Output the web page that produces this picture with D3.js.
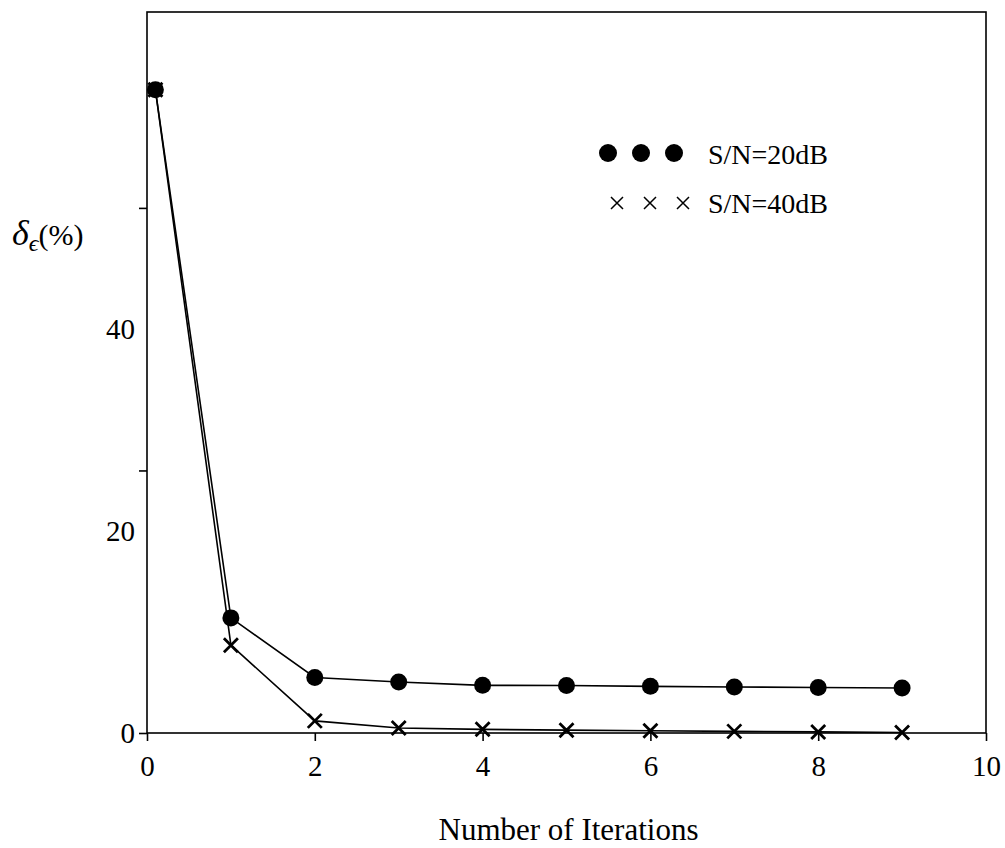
<!DOCTYPE html>
<html>
<head>
<meta charset="utf-8">
<script src="https://cdn.jsdelivr.net/npm/d3@7"></script>
<style>
  body { margin: 0; background: #fff; }
  svg { display: block; }
  text { font-family: "Liberation Serif", "DejaVu Serif", serif; fill: #000; }
</style>
</head>
<body>
<script>
// values
var iterations = [0.1, 1, 2, 3, 4, 5, 6, 7, 8, 9]
var snr20 = [63.7, 11.4, 5.5, 5.05, 4.72, 4.7, 4.62, 4.56, 4.5, 4.45]
var snr40 = [63.7, 8.7, 1.2, 0.5, 0.36, 0.28, 0.22, 0.16, 0.11, 0.05]
var xTicks = [0, 2, 4, 6, 8, 10]
var yTicks = [0, 26, 52]
var yLabels = [0, 20, 40]
var legendItems = ['S/N=20dB', 'S/N=40dB']

var width = 1005, height = 848
var svg = d3.select('body').append('svg').attr('width', width).attr('height', height)

var x = d3.scaleLinear().domain([0, 10]).range([147, 986])
var y = d3.scaleLinear().domain([0, 71.4]).range([733, 12])

// frame
svg.append('rect')
  .attr('x', x(0)).attr('y', y(71.4))
  .attr('width', x(10) - x(0)).attr('height', y(0) - y(71.4))
  .attr('fill', 'none').attr('stroke', '#000').attr('stroke-width', 1.6)

var xAxis = svg.append('g').attr('transform', `translate(0,${y(0)})`)
  .call(d3.axisBottom(x).tickValues(xTicks).tickSize(8).tickSizeOuter(0).tickPadding(14))
xAxis.select('.domain').remove()
xAxis.selectAll('line').attr('stroke-width', 1.6)
xAxis.selectAll('text').style('font-size', '29px').attr('fill', '#000')

var yAxis = svg.append('g').attr('transform', `translate(${x(0)},0)`)
  .call(d3.axisLeft(y).tickValues(yTicks).tickSize(8).tickSizeOuter(0).tickFormat(''))
yAxis.select('.domain').remove()
yAxis.selectAll('line').attr('stroke-width', 1.6)

// y labels sit apart from the ticks in the original
svg.append('g').selectAll('text').data(yLabels).join('text')
  .attr('x', 135).attr('y', d => y(d)).attr('dy', '0.35em')
  .attr('text-anchor', 'end').style('font-size', '29px')
  .text(d => d)

var line = d3.line().x(d => x(d[0])).y(d => y(d[1]))
var pts20 = iterations.map((d, i) => [d, snr20[i]])
var pts40 = iterations.map((d, i) => [d, snr40[i]])

svg.append('path').datum(pts20).attr('d', line)
  .attr('fill', 'none').attr('stroke', '#000').attr('stroke-width', 1.6)
svg.append('path').datum(pts40).attr('d', line)
  .attr('fill', 'none').attr('stroke', '#000').attr('stroke-width', 1.6)

svg.append('g').selectAll('circle').data(pts20).join('circle')
  .attr('cx', d => x(d[0])).attr('cy', d => y(d[1])).attr('r', 8.5).attr('fill', '#000')

function cross(sel, s, sw){
  sel.append('path')
    .attr('d', `M${-s},${-s}L${s},${s}M${-s},${s}L${s},${-s}`)
    .attr('stroke', '#000').attr('stroke-width', sw).attr('fill', 'none')
}

svg.append('g').selectAll('g').data(pts40).join('g')
  .attr('transform', d => `translate(${x(d[0])},${y(d[1])})`)
  .call(cross, 7, 2.8)

// legend
var lg = svg.append('g').attr('transform', 'translate(608,153)')
lg.selectAll('circle').data([0, 1, 2]).join('circle')
  .attr('cx', d => d * 33).attr('r', 9).attr('fill', '#000')
lg.selectAll('g.lx').data([0, 1, 2]).join('g').attr('class', 'lx')
  .attr('transform', d => `translate(${9 + d * 33},50)`)
  .call(cross, 6, 1.5)
lg.selectAll('text').data(legendItems).join('text')
  .attr('x', 100).attr('y', (d, i) => 11 + i * 49)
  .style('font-size', '28px')
  .text(d => d)

// axis titles
svg.append('text')
  .attr('x', (x(0) + x(10)) / 2 + 2).attr('y', 840)
  .attr('text-anchor', 'middle').style('font-size', '31px')
  .text('Number of Iterations')

var yt = svg.append('text').attr('x', 12).attr('y', 245).style('font-size', '30px')
yt.append('tspan').style('font-style', 'italic').style('font-size', '36px').text('δ')
yt.append('tspan').style('font-style', 'italic').style('font-size', '24px').attr('dy', 6).text('ϵ')
yt.append('tspan').attr('dy', -6).style('font-size', '30px').text('(%)')
</script>
</body>
</html>
